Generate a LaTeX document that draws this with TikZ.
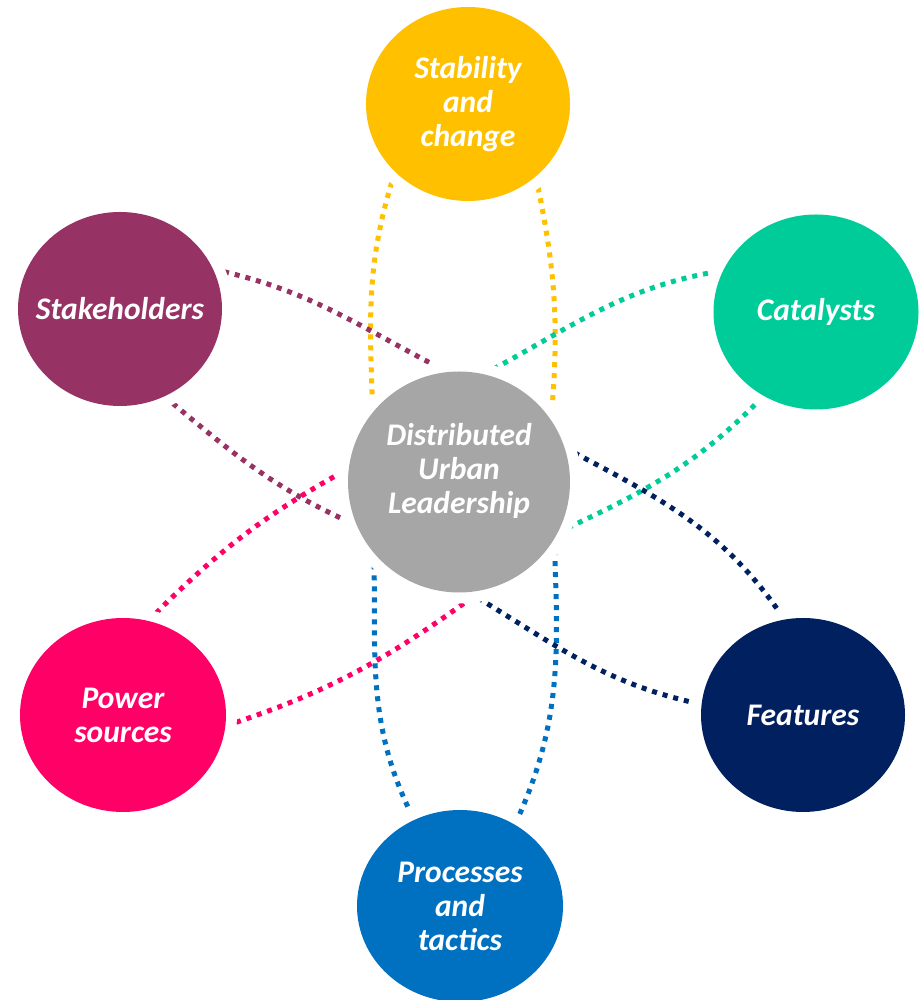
\documentclass[tikz,border=0pt]{standalone}
\usepackage{fontspec}
\setmainfont{Carlito}
\usepackage{tikz}
\usetikzlibrary{shapes.geometric,backgrounds}

\definecolor{stabcol}{HTML}{FFC000}
\definecolor{stakecol}{HTML}{963264}
\definecolor{catcol}{HTML}{00CC99}
\definecolor{dulcol}{HTML}{A6A6A6}
\definecolor{powcol}{HTML}{FF0066}
\definecolor{featcol}{HTML}{002060}
\definecolor{proccol}{HTML}{0070C0}

\begin{document}
\begin{tikzpicture}
  [x=1pt, y=1pt,
    topic/.style={ellipse, fill=#1, inner ysep=0pt, inner xsep=-30pt,
      minimum width=204pt, minimum height=194pt,
      preaction={draw=white, line width=22pt}, text=white, align=center,
      font=\fontsize{31.5}{34}\selectfont\bfseries\itshape},
    hub/.style={topic=dulcol, minimum width=222pt, minimum height=221pt},
    hubtext/.style={text=white, align=center, yshift=11pt,
      font=\fontsize{31.5}{34}\selectfont\bfseries\itshape},
    orbit/.style={draw=#1, line width=5pt, dash pattern=on 5pt off 6pt}
  ]

  \useasboundingbox (0,0) rectangle (922,1000);

  % centre and the six topics
  \node[hub, label={[hubtext]center:Distributed\\Urban\\Leadership}] (dul) at (459,518) {};

  \path (468,896) node[topic=stabcol]  (stab)  {Stability\\and\\change}
        (120,691) node[topic=stakecol] (stake) {Stakeholders}
        (816,688) node[topic=catcol, minimum width=205pt, minimum height=195pt] (cat) {Catalysts}
        (123,285) node[topic=powcol, minimum width=206pt]  (pow)  {Power\\sources}
        (803,285) node[topic=featcol]  (feat)  {Features}
        (460,94)  node[topic=proccol, minimum width=206pt, minimum height=192pt] (proc) {Processes\\and\\tactics};

  % dotted orbits, kept under the discs
  \begin{pgfonlayer}{background}
    \draw[orbit=stabcol]  (stab.223) to[out=252, in=92]  (dul.141);
    \draw[orbit=stabcol]  (stab.313) to[out=282, in=85]  (dul.34);

    \draw[orbit=proccol]  (dul.220) to[out=271, in=117] (proc.118);
    \draw[orbit=proccol]  (dul.329) to[out=272, in=65]  (proc.56);

    \draw[orbit=stakecol] (stake.23)  to[out=348, in=153] (dul.96);
    \draw[orbit=stakecol] (stake.297) to[out=320, in=156] (dul.203);

    \draw[orbit=catcol]   (dul.77)  to[out=28, in=189] (cat.156);
    \draw[orbit=catcol]   (dul.333) to[out=25, in=226] (cat.238);

    \draw[orbit=powcol]   (pow.75)  to[out=45, in=209] (dul.173);
    \draw[orbit=powcol]   (pow.354) to[out=18, in=216] (dul.282);

    \draw[orbit=featcol]  (dul.18)  to[out=332, in=124] (feat.101);
    \draw[orbit=featcol]  (dul.275) to[out=329, in=168] (feat.174);
  \end{pgfonlayer}

\end{tikzpicture}
\end{document}
